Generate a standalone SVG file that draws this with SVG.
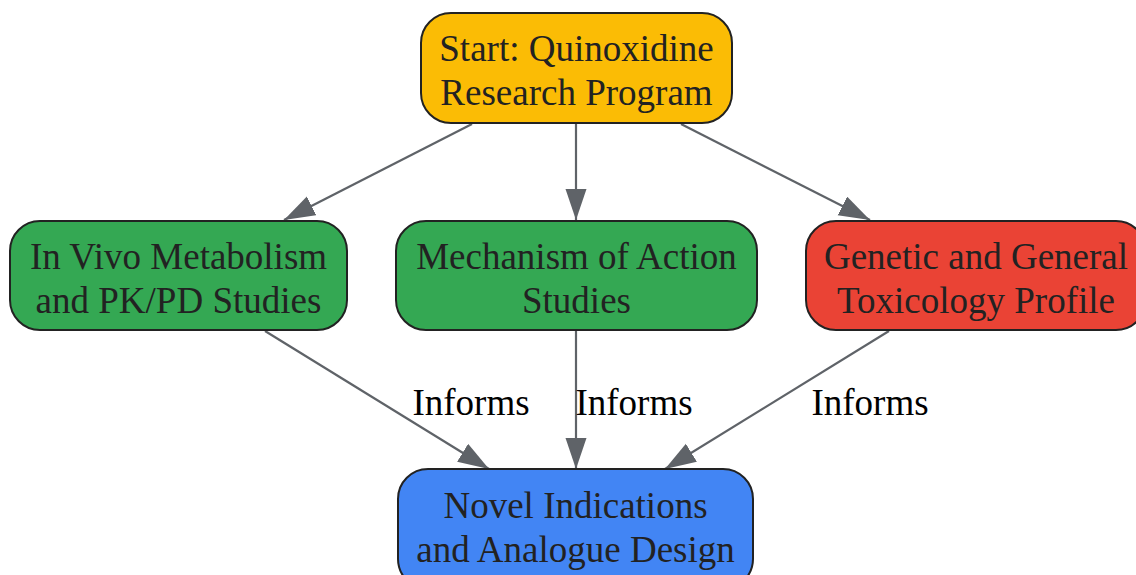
<svg xmlns="http://www.w3.org/2000/svg" width="1136" height="575" viewBox="0 0 1136 575">
<style>
.node rect{stroke:#222222;stroke-width:2}
.node text{font-family:"Liberation Serif","Times New Roman",serif;font-size:37px;fill:#222222;text-anchor:middle}
.edge{stroke:#5f6368;stroke-width:2.2;fill:none;marker-end:url(#arr)}
.lbl{font-family:"Liberation Serif","Times New Roman",serif;font-size:37px;fill:#000000;text-anchor:middle}
</style>
<defs>
<marker id="arr" markerUnits="userSpaceOnUse" markerWidth="32" markerHeight="22" refX="31" refY="10.5" orient="auto">
<path d="M0,0 L31,10.5 L0,21 z" fill="#5f6368"/>
</marker>
</defs>
<rect width="1136" height="575" fill="#ffffff"/>
<g id="connectors">
<line class="edge" x1="472" y1="124" x2="284" y2="220"/>
<line class="edge" x1="576" y1="124" x2="576" y2="220"/>
<line class="edge" x1="681" y1="124" x2="870" y2="220"/>
<line class="edge" x1="265" y1="331" x2="489" y2="469"/>
<line class="edge" x1="576" y1="331" x2="576" y2="469"/>
<line class="edge" x1="889" y1="331" x2="665" y2="469"/>
<text class="lbl" x="471" y="415">Informs</text>
<text class="lbl" x="634" y="415">Informs</text>
<text class="lbl" x="870" y="415">Informs</text>
</g>
<g id="start" class="node">
<rect x="421" y="13" width="311" height="110" rx="30" fill="#fbbc05"/>
<text x="576.5" y="61">Start: Quinoxidine</text>
<text x="576.5" y="105">Research Program</text>
</g>
<g id="invivo" class="node">
<rect x="10" y="221" width="337" height="109" rx="30" fill="#34a853"/>
<text x="178.5" y="269">In Vivo Metabolism</text>
<text x="178.5" y="313">and PK/PD Studies</text>
</g>
<g id="moa" class="node">
<rect x="396" y="221" width="361" height="109" rx="30" fill="#34a853"/>
<text x="576.5" y="269">Mechanism of Action</text>
<text x="576.5" y="313">Studies</text>
</g>
<g id="tox" class="node">
<rect x="806" y="221" width="340" height="109" rx="30" fill="#ea4335"/>
<text x="976" y="269">Genetic and General</text>
<text x="976" y="313">Toxicology Profile</text>
</g>
<g id="novel" class="node">
<rect x="398" y="469" width="355" height="120" rx="30" fill="#4285f4"/>
<text x="575.5" y="518">Novel Indications</text>
<text x="575.5" y="562">and Analogue Design</text>
</g>
</svg>
